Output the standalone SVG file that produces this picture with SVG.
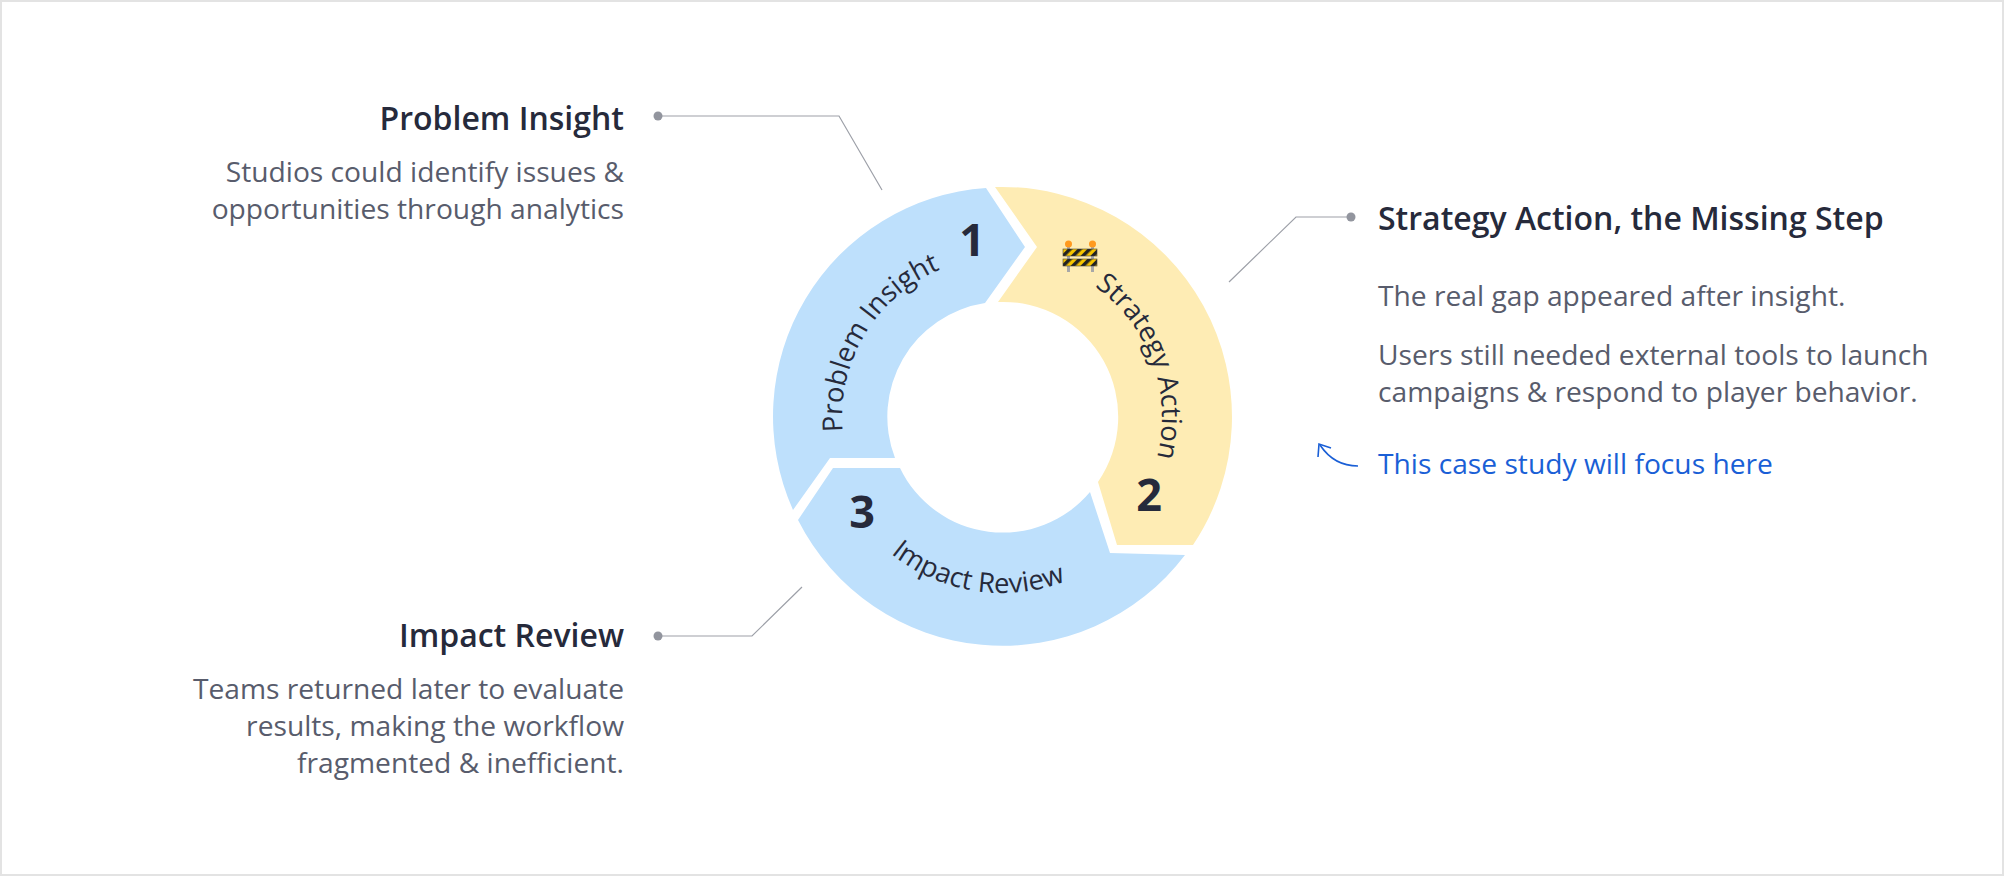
<svg xmlns="http://www.w3.org/2000/svg" width="2004" height="876" viewBox="0 0 2004 876">
<style>
.title{font-family:"Open Sans","Noto Sans",sans-serif;font-size:32px;font-weight:600;fill:#262a3b}
.body{font-family:"Open Sans","Noto Sans",sans-serif;font-size:28.2px;fill:#585c6c}
.arc{font-family:"Open Sans","Noto Sans",sans-serif;font-size:27.5px;fill:#262a3b}
.num{font-family:"Open Sans","Noto Sans",sans-serif;font-size:45px;font-weight:700;fill:#262a3b}
.lead{fill:none;stroke:#9da0a8;stroke-width:1.2}
.dot{fill:#92959e}
</style>
<defs>
<pattern id="stripes" width="7" height="7" patternUnits="userSpaceOnUse" patternTransform="rotate(45)">
<rect width="7" height="7" fill="#f5c400"/><rect width="3.5" height="7" fill="#222"/>
</pattern>
<path id="pPI" d="M850.7,469.1 A160,160 0 0,1 977,259"/>
<path id="pSA" d="M1056.7,266.6 A160,160 0 0,1 1140.6,497"/>
<path id="pIR" d="M851.1,507.6 A176,176 0 0,0 1117.5,549.8"/>
</defs>
<rect x="1" y="1" width="2002" height="874" fill="#fff" stroke="#e3e3e3" stroke-width="2"/>
<g id="connectors">
<polyline class="lead" points="658,116 839,116 882,190"/>
<circle class="dot" cx="658" cy="116" r="4.5"/>
<polyline class="lead" points="1351,217 1296,217 1229,282"/>
<circle class="dot" cx="1351" cy="217" r="4.5"/>
<polyline class="lead" points="658,636 752,636 802,587"/>
<circle class="dot" cx="658" cy="636" r="4.5"/>
<path d="M1358,466 Q1334,466 1320,445" fill="none" stroke="#1a5fd6" stroke-width="1.6"/>
<path d="M1318,457 L1319,444 L1331,448" fill="none" stroke="#1a5fd6" stroke-width="1.6"/>
</g>
<g id="seg1">
<path d="M793,510 L830,458 L895,458 A115,115 0 0,1 985,303 L1025,247 L986,188 A229,229 0 0,0 793,510 Z" fill="#bee0fc"/>
<text class="arc"><textPath href="#pPI" startOffset="50%" text-anchor="middle">Problem Insight</textPath></text>
<text class="num" x="972" y="256" text-anchor="middle">1</text>
</g>
<g id="seg2">
<path d="M995,187 A230,230 0 0,1 1193,545 L1117,545 L1098,482 A115,115 0 0,0 998,302 L1037,247 Z" fill="#feecb4"/>
<text class="arc"><textPath href="#pSA" startOffset="50%" text-anchor="middle">Strategy Action</textPath></text>
<text class="num" x="1149" y="511" text-anchor="middle">2</text>
<g id="barrier">
<rect x="1067" y="246" width="3" height="26" fill="#a8a8a8"/>
<rect x="1091" y="246" width="3" height="26" fill="#a8a8a8"/>
<circle cx="1068.5" cy="244" r="3.5" fill="#ff9a1f"/>
<circle cx="1092.5" cy="244" r="3.5" fill="#ff9a1f"/>
<rect x="1063" y="249" width="34" height="7" fill="url(#stripes)" stroke="#444" stroke-width="0.6"/>
<rect x="1063" y="259" width="34" height="7" fill="url(#stripes)" stroke="#444" stroke-width="0.6"/>
</g>
</g>
<g id="seg3">
<path d="M1185,555 A229,229 0 0,1 798,520 L833,468 L900,468 A114,114 0 0,0 1090,492 L1110,553 Z" fill="#bee0fc"/>
<text class="arc"><textPath href="#pIR" startOffset="50%" text-anchor="middle">Impact Review</textPath></text>
<text class="num" x="862" y="528" text-anchor="middle">3</text>
</g>
<g id="label-problem" text-anchor="end">
<text class="title" x="624" y="130">Problem Insight</text>
<text class="body" x="624" y="182">Studios could identify issues &amp;</text>
<text class="body" x="624" y="219">opportunities through analytics</text>
</g>
<g id="label-strategy">
<text class="title" x="1378" y="230">Strategy Action, the Missing Step</text>
<text class="body" x="1378" y="306">The real gap appeared after insight.</text>
<text class="body" x="1378" y="365">Users still needed external tools to launch</text>
<text class="body" x="1378" y="402">campaigns &amp; respond to player behavior.</text>
<text class="body" x="1378" y="474" style="fill:#1a5fd6">This case study will focus here</text>
</g>
<g id="label-impact" text-anchor="end">
<text class="title" x="624" y="647">Impact Review</text>
<text class="body" x="624" y="699">Teams returned later to evaluate</text>
<text class="body" x="624" y="736">results, making the workflow</text>
<text class="body" x="624" y="773">fragmented &amp; inefficient.</text>
</g>
</svg>
